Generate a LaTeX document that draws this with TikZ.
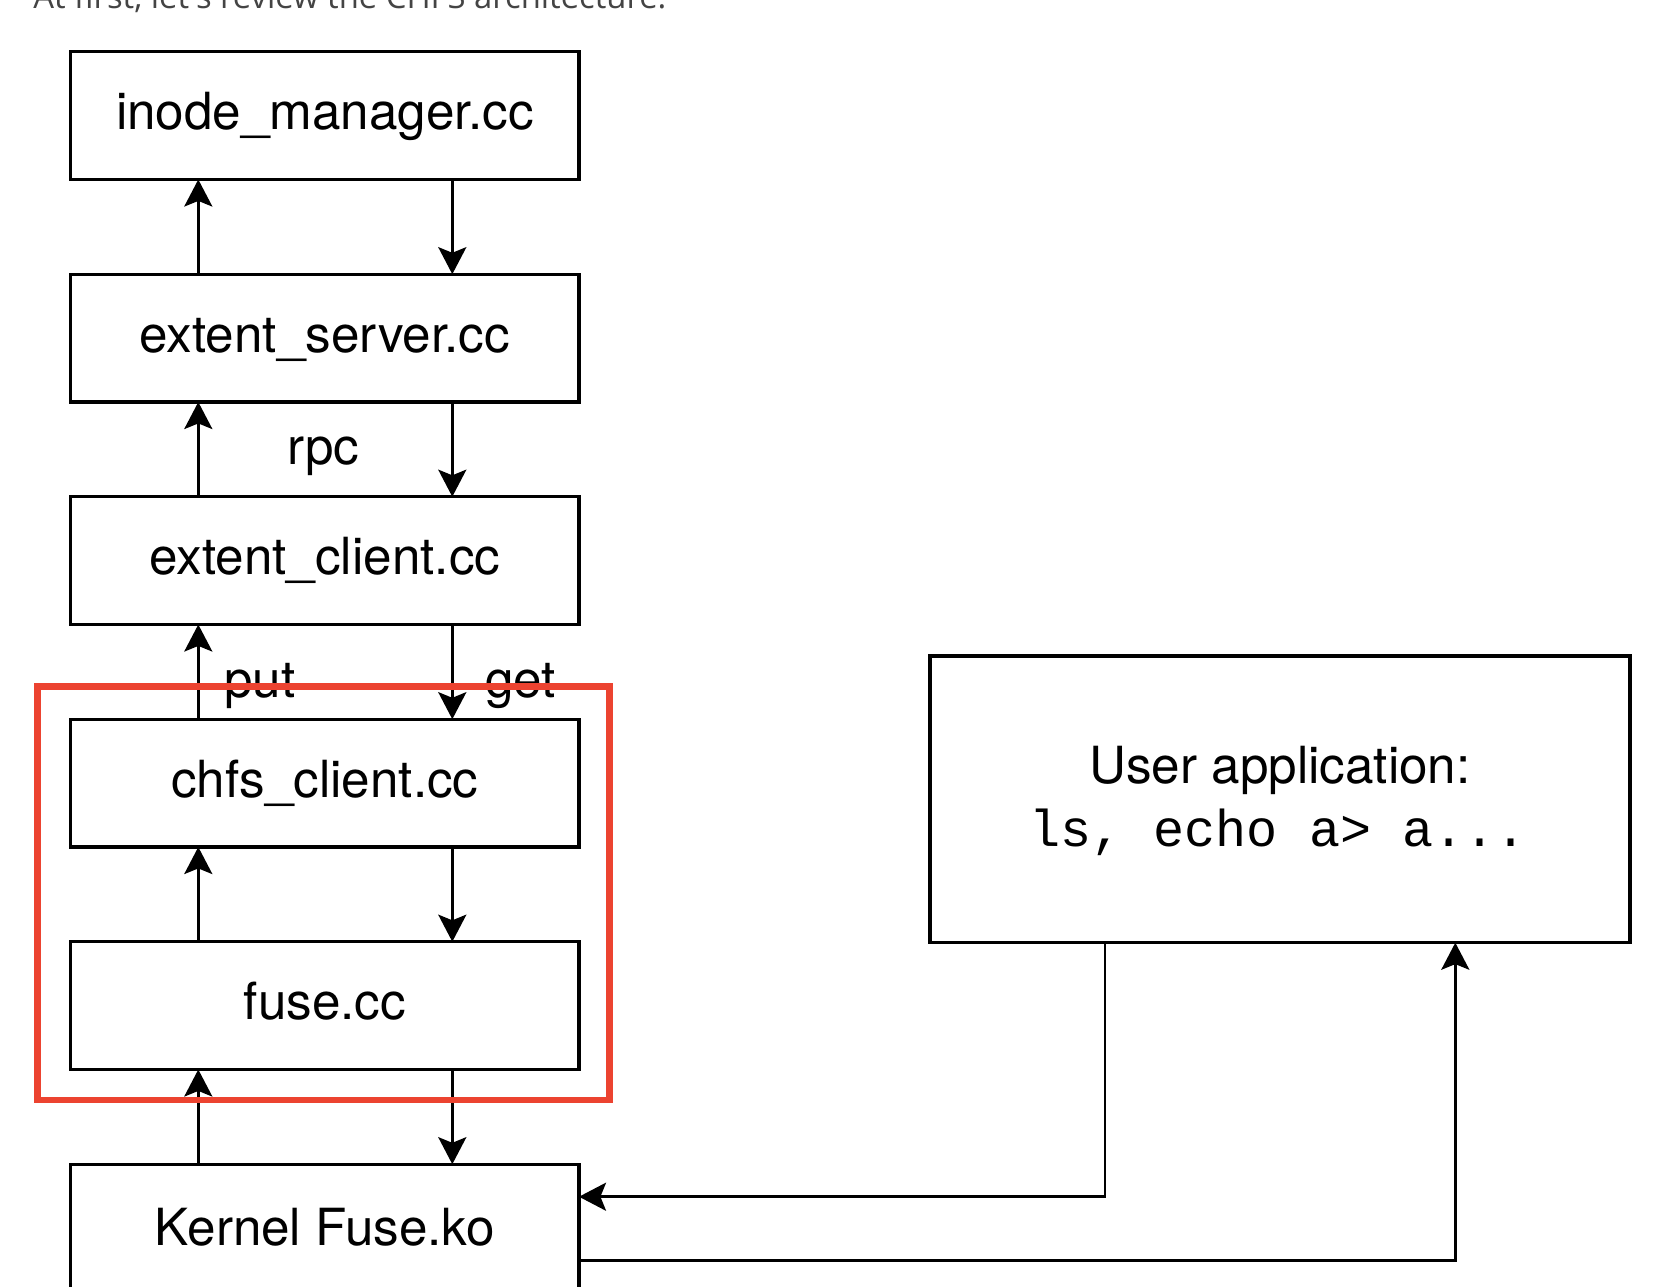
\documentclass[tikz,border=0pt]{standalone}
\usepackage{fontspec}
\setmainfont{TeX Gyre Heros}
\newfontfamily\monofont{Liberation Mono}
\newfontfamily\titlefont{Open Sans}
\usetikzlibrary{arrows.meta,calc}
\definecolor{redhl}{RGB}{236,67,48}
\definecolor{titlegray}{RGB}{68,68,68}
\begin{document}
\begin{tikzpicture}[x=0.5pt,y=-0.5pt,
  box/.style={draw, line width=1.65pt, minimum width=254.1pt, minimum height=63.9pt,
    inner sep=0pt, outer sep=0pt, font=\fontsize{25.6pt}{30pt}\selectfont,
    text height=19.5pt, text depth=5.5pt},
  arr/.style={line width=1.45pt, -{Stealth[length=13.5pt,width=14pt,inset=2.8pt]}},
  lbl/.style={font=\fontsize{25.6pt}{30pt}\selectfont, anchor=base, inner sep=0pt},
  hlbox/.style={draw=redhl, line width=3.35pt, inner sep=0pt, outer sep=0pt}
]
\fill[white] (0,0) rectangle (1674,1286);
\clip (0,0) rectangle (1674,1286);

\node[anchor=base west, inner sep=0pt, text=titlegray,
  font=\titlefont\fontsize{16.4pt}{20pt}\selectfont] (title) at (33,8.3)
  {At first, let's review the CHFS architecture.};

\node[box] (b1) at (324.9,115.6) {inode\_manager.cc};
\node[box] (b2) at (324.9,338.1) {extent\_server.cc};
\node[box] (b3) at (324.9,560.6) {extent\_client.cc};
\node[box] (b4) at (324.9,783.1) {chfs\_client.cc};
\node[box] (b5) at (324.9,1005.6) {fuse.cc};
\node[box, minimum height=67.3pt] (b6) at (324.9,1231.5) {Kernel Fuse.ko};

\node[draw, line width=1.65pt, minimum width=350pt, minimum height=143.35pt,
  inner sep=0pt, outer sep=0pt] (app) at (1280,799.35) {};
\node[lbl] (apptitle) at (1280,783.5) {User application:};
\node[lbl, font=\monofont\fontsize{25.9pt}{30pt}\selectfont] (appcmd) at (1278,846) {ls, echo a> a...};

\coordinate (ux) at (198.3,0);
\coordinate (dx) at (452.3,0);
\foreach \a/\b in {b1/b2,b2/b3,b3/b4,b4/b5,b5/b6}{
  \draw[arr] (\b.north -| ux) -- (\a.south -| ux);
  \draw[arr] (\a.south -| dx) -- (\b.north -| dx);
}

\coordinate (c1) at (1105,1196.7);
\coordinate (c2) at (1455.3,1260.7);
\draw[arr] (app.south -| c1) -- (c1) -- (b6.east |- c1);
\draw[arr] (b6.east |- c2) -- (c2) -- (app.south -| c2);

\node[lbl] (rpc) at (323.5,464.5) {rpc};
\node[lbl] (put) at (260,697.5) {put};
\node[lbl] (get) at (520.5,697.5) {get};

\node[hlbox, minimum width=286pt, minimum height=206.65pt] (hl) at (323.3,893.35) {};
\end{tikzpicture}
\end{document}
